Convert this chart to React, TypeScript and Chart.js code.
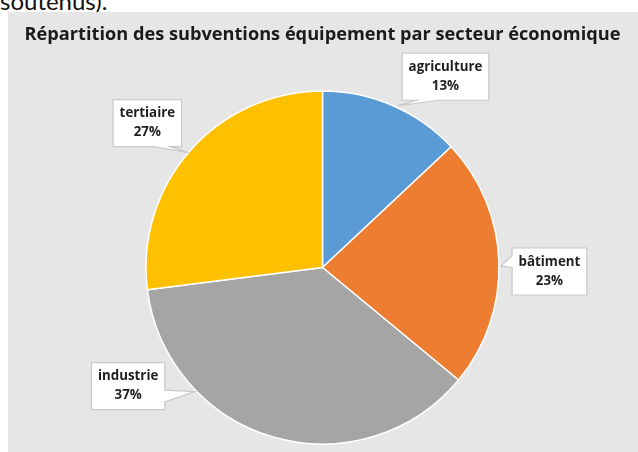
import React, { useEffect, useRef } from "react";
import { Chart, registerables } from "chart.js";

Chart.register(...registerables);

// ---- data ----
const categories = ["agriculture", "bâtiment", "industrie", "tertiaire"];
const shares = [13, 23, 37, 27];
const percentLabels = ["13%", "23%", "37%", "27%"];
const sliceColors = ["#5B9BD5", "#ED7D31", "#A5A5A5", "#FFC000"];
const chartTitle = "Répartition des subventions équipement par secteur économique";
const leadingText = "soutenus).";

// label placement relative to each slice (degrees from mid-angle, radius factors)
const labelPlacement = [
  { shift: 9.4, dist: 1.286, tipShift: 1.5, tipDist: 1.01 },
  { shift: 2.8, dist: 1.286, tipShift: 1.3, tipDist: 1.01 },
  { shift: 42.4, dist: 1.29, tipShift: 29.7, tipDist: 1.01 },
  { shift: -1.9, dist: 1.286, tipShift: -0.8, tipDist: 1.0 },
];

const LABEL_FONT = "bold 13.3px 'Open Sans'";
const LABEL_LINE = 19;
const PAD_X = 6.5;
const PAD_Y = 4.5;

const calloutPlugin = {
  id: "callouts",
  afterDatasetsDraw(chart: any) {
    const ctx: CanvasRenderingContext2D = chart.ctx;
    const meta = chart.getDatasetMeta(0);
    ctx.save();
    ctx.font = LABEL_FONT;
    meta.data.forEach((arc: any, i: number) => {
      const { x, y, startAngle, endAngle, outerRadius } = arc.getProps(
        ["x", "y", "startAngle", "endAngle", "outerRadius"],
        true
      );
      const mid = (startAngle + endAngle) / 2;
      const p = labelPlacement[i];
      const la = mid + (p.shift * Math.PI) / 180;
      const lx = x + Math.cos(la) * outerRadius * p.dist;
      const ly = y + Math.sin(la) * outerRadius * p.dist;
      const ta = mid + (p.tipShift * Math.PI) / 180;
      const tx = x + Math.cos(ta) * outerRadius * p.tipDist;
      const ty = y + Math.sin(ta) * outerRadius * p.tipDist;

      const lines = [categories[i], percentLabels[i]];
      const tw = Math.max(...lines.map((l) => ctx.measureText(l).width));
      const w = tw + 2 * PAD_X;
      const h = lines.length * LABEL_LINE + 2 * PAD_Y;
      const l = lx - w / 2;
      const t = ly - h / 2;
      const r = l + w;
      const b = t + h;

      const dx = tx - lx;
      const dy = ty - ly;
      const dxs = (dx * h) / w;
      const inside = tx > l && tx < r && ty > t && ty < b;
      const horiz = Math.abs(dxs) > Math.abs(dy);
      const side = inside ? "none" : horiz ? (dx > 0 ? "right" : "left") : dy > 0 ? "bottom" : "top";
      const x1 = (w * (dx > 0 ? 7 : 2)) / 12;
      const x2 = (w * (dx > 0 ? 10 : 5)) / 12;
      const y1 = (h * (dy > 0 ? 7 : 2)) / 12;
      const y2 = (h * (dy > 0 ? 10 : 5)) / 12;

      ctx.beginPath();
      ctx.moveTo(l, t);
      if (side === "top") {
        ctx.lineTo(l + x1, t);
        ctx.lineTo(tx, ty);
        ctx.lineTo(l + x2, t);
      }
      ctx.lineTo(r, t);
      if (side === "right") {
        ctx.lineTo(r, t + y1);
        ctx.lineTo(tx, ty);
        ctx.lineTo(r, t + y2);
      }
      ctx.lineTo(r, b);
      if (side === "bottom") {
        ctx.lineTo(l + x2, b);
        ctx.lineTo(tx, ty);
        ctx.lineTo(l + x1, b);
      }
      ctx.lineTo(l, b);
      if (side === "left") {
        ctx.lineTo(l, t + y2);
        ctx.lineTo(tx, ty);
        ctx.lineTo(l, t + y1);
      }
      ctx.closePath();
      ctx.fillStyle = "#FFFFFF";
      ctx.fill();
      ctx.lineWidth = 1.2;
      ctx.strokeStyle = "#C9C9C9";
      ctx.stroke();

      ctx.fillStyle = "#1F1F1F";
      ctx.textAlign = "center";
      ctx.textBaseline = "middle";
      lines.forEach((txt, k) => {
        ctx.fillText(txt, lx, t + PAD_Y + LABEL_LINE * (k + 0.5));
      });
    });
    ctx.restore();
  },
};

export default function App() {
  const canvasRef = useRef<HTMLCanvasElement | null>(null);

  useEffect(() => {
    if (!canvasRef.current) return;
    const chart = new Chart(canvasRef.current, {
      type: "pie",
      data: {
        labels: categories,
        datasets: [
          {
            data: shares,
            backgroundColor: sliceColors,
            borderColor: "#FFFFFF",
            borderWidth: 1.5,
          },
        ],
      },
      options: {
        responsive: false,
        animation: false,
        radius: 176.5,
        layout: { padding: { left: 0, right: 1, top: 0, bottom: 0 } },
        plugins: {
          legend: { display: false },
          tooltip: { enabled: false },
          title: {
            display: true,
            text: chartTitle,
            color: "#1A1A1A",
            font: { family: "'Open Sans'", weight: "bold", size: 18.2, lineHeight: 1.2 },
            padding: { top: 11.5, bottom: 37.7 },
          },
        },
      } as any,
      plugins: [calloutPlugin],
    });
    return () => chart.destroy();
  }, []);

  return (
    <div
      style={{
        position: "absolute",
        left: 0,
        top: 0,
        width: 638,
        height: 452,
        overflow: "hidden",
        background: "#FFFFFF",
      }}
    >
      <div
        style={{
          position: "absolute",
          left: 0,
          top: -11.3,
          fontFamily: "Lato, sans-serif",
          fontSize: 24,
          lineHeight: "24px",
          color: "#111",
          whiteSpace: "nowrap",
        }}
      >
        {leadingText}
      </div>
      <div
        style={{
          position: "absolute",
          left: 8,
          top: 12,
          width: 630,
          height: 440,
          background: "#E7E6E6",
        }}
      >
        <canvas ref={canvasRef} width={630} height={440} style={{ display: "block" }} />
      </div>
    </div>
  );
}
